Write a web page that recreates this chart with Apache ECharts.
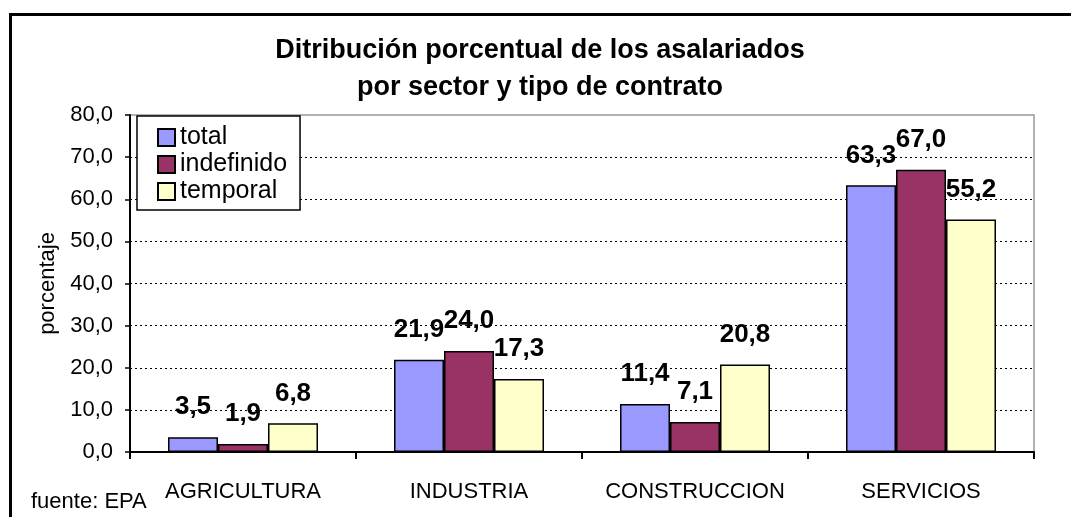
<!DOCTYPE html>
<html>
<head>
<meta charset="utf-8">
<script src="https://cdn.jsdelivr.net/npm/echarts@6/dist/echarts.min.js"></script>
<style>
  html, body { margin: 0; padding: 0; background: #fff; }
  #chart { width: 1071px; height: 517px; }
</style>
</head>
<body>
<div id="chart"></div>
<script>
// datos EPA
const sectors = ['AGRICULTURA', 'INDUSTRIA', 'CONSTRUCCION', 'SERVICIOS']
const seriesNames = ['total', 'indefinido', 'temporal']
const totalValues = [3.5, 21.9, 11.4, 63.3]
const indefinidoValues = [1.9, 24.0, 7.1, 67.0]
const temporalValues = [6.8, 17.3, 20.8, 55.2]
const seriesColors = ['#9999FF', '#993366', '#FFFFCC']

const FONT = 'Liberation Sans, Arial, sans-serif'
const fmt = v => Number(v).toFixed(1).replace('.', ',')

const chart = echarts.init(document.getElementById('chart'))

const makeSeries = (name, data, color) => ({
  name: name,
  type: 'bar',
  data: data,
  barWidth: 50,
  barGap: '0%',
  itemStyle: {
    color: color,
    borderColor: '#000',
    borderWidth: 1.5
  },
  label: {
    show: true,
    position: 'top',
    distance: 17,
    formatter: p => fmt(p.value),
    color: '#000',
    fontFamily: FONT,
    fontWeight: 'bold',
    fontSize: 26
  }
})

const option = {
  backgroundColor: '#fff',
  animation: false,
  title: {
    text: 'Ditribución porcentual de los asalariados\npor sector y tipo de contrato',
    left: 540,
    top: 32,
    textAlign: 'center',
    padding: 0,
    textStyle: {
      fontFamily: FONT,
      fontWeight: 'bold',
      fontSize: 27,
      lineHeight: 37,
      color: '#000'
    }
  },
  legend: {
    orient: 'vertical',
    left: 137,
    top: 116,
    data: seriesNames,
    icon: 'rect',
    itemWidth: 17,
    itemHeight: 17,
    itemGap: 2,
    padding: [9, 13, 6, 20],
    borderColor: '#000',
    borderWidth: 1.5,
    backgroundColor: '#fff',
    textStyle: {
      fontFamily: FONT,
      fontSize: 25,
      color: '#000'
    }
  },
  grid: {
    left: 130,
    right: 37,
    top: 115,
    bottom: 65,
    show: true,
    borderColor: '#999',
    borderWidth: 1.5
  },
  xAxis: {
    type: 'category',
    data: sectors,
    axisLine: { lineStyle: { color: '#000', width: 2 } },
    axisTick: { show: true, interval: 0, length: 7, lineStyle: { color: '#000', width: 2 } },
    axisLabel: {
      interval: 0,
      margin: 29,
      fontFamily: FONT,
      fontSize: 22,
      color: '#000'
    }
  },
  yAxis: {
    type: 'value',
    min: 0,
    max: 80,
    interval: 10,
    name: 'porcentaje',
    nameLocation: 'middle',
    nameRotate: 90,
    nameGap: 71,
    nameTextStyle: {
      fontFamily: FONT,
      fontSize: 22,
      color: '#000'
    },
    axisLine: { show: true, lineStyle: { color: '#000', width: 2 } },
    axisTick: { show: true, length: 5, lineStyle: { color: '#000', width: 1.5 } },
    axisLabel: {
      margin: 17,
      formatter: v => fmt(v),
      fontFamily: FONT,
      fontSize: 22,
      color: '#000'
    },
    splitLine: {
      show: true,
      showMinLine: false,
      showMaxLine: false,
      lineStyle: { color: '#000', type: [2, 3], width: 1.2 }
    }
  },
  graphic: [
    {
      type: 'rect',
      left: 8,
      top: 12,
      shape: { width: 1200, height: 700 },
      style: { fill: 'none', stroke: '#000', lineWidth: 3 },
      silent: true
    },
    {
      type: 'text',
      left: 31,
      top: 491,
      style: {
        text: 'fuente: EPA',
        fontFamily: FONT,
        fontSize: 22,
        fill: '#000'
      }
    }
  ],
  series: [
    makeSeries(seriesNames[0], totalValues, seriesColors[0]),
    makeSeries(seriesNames[1], indefinidoValues, seriesColors[1]),
    makeSeries(seriesNames[2], temporalValues, seriesColors[2])
  ]
}

chart.setOption(option)
</script>
</body>
</html>
